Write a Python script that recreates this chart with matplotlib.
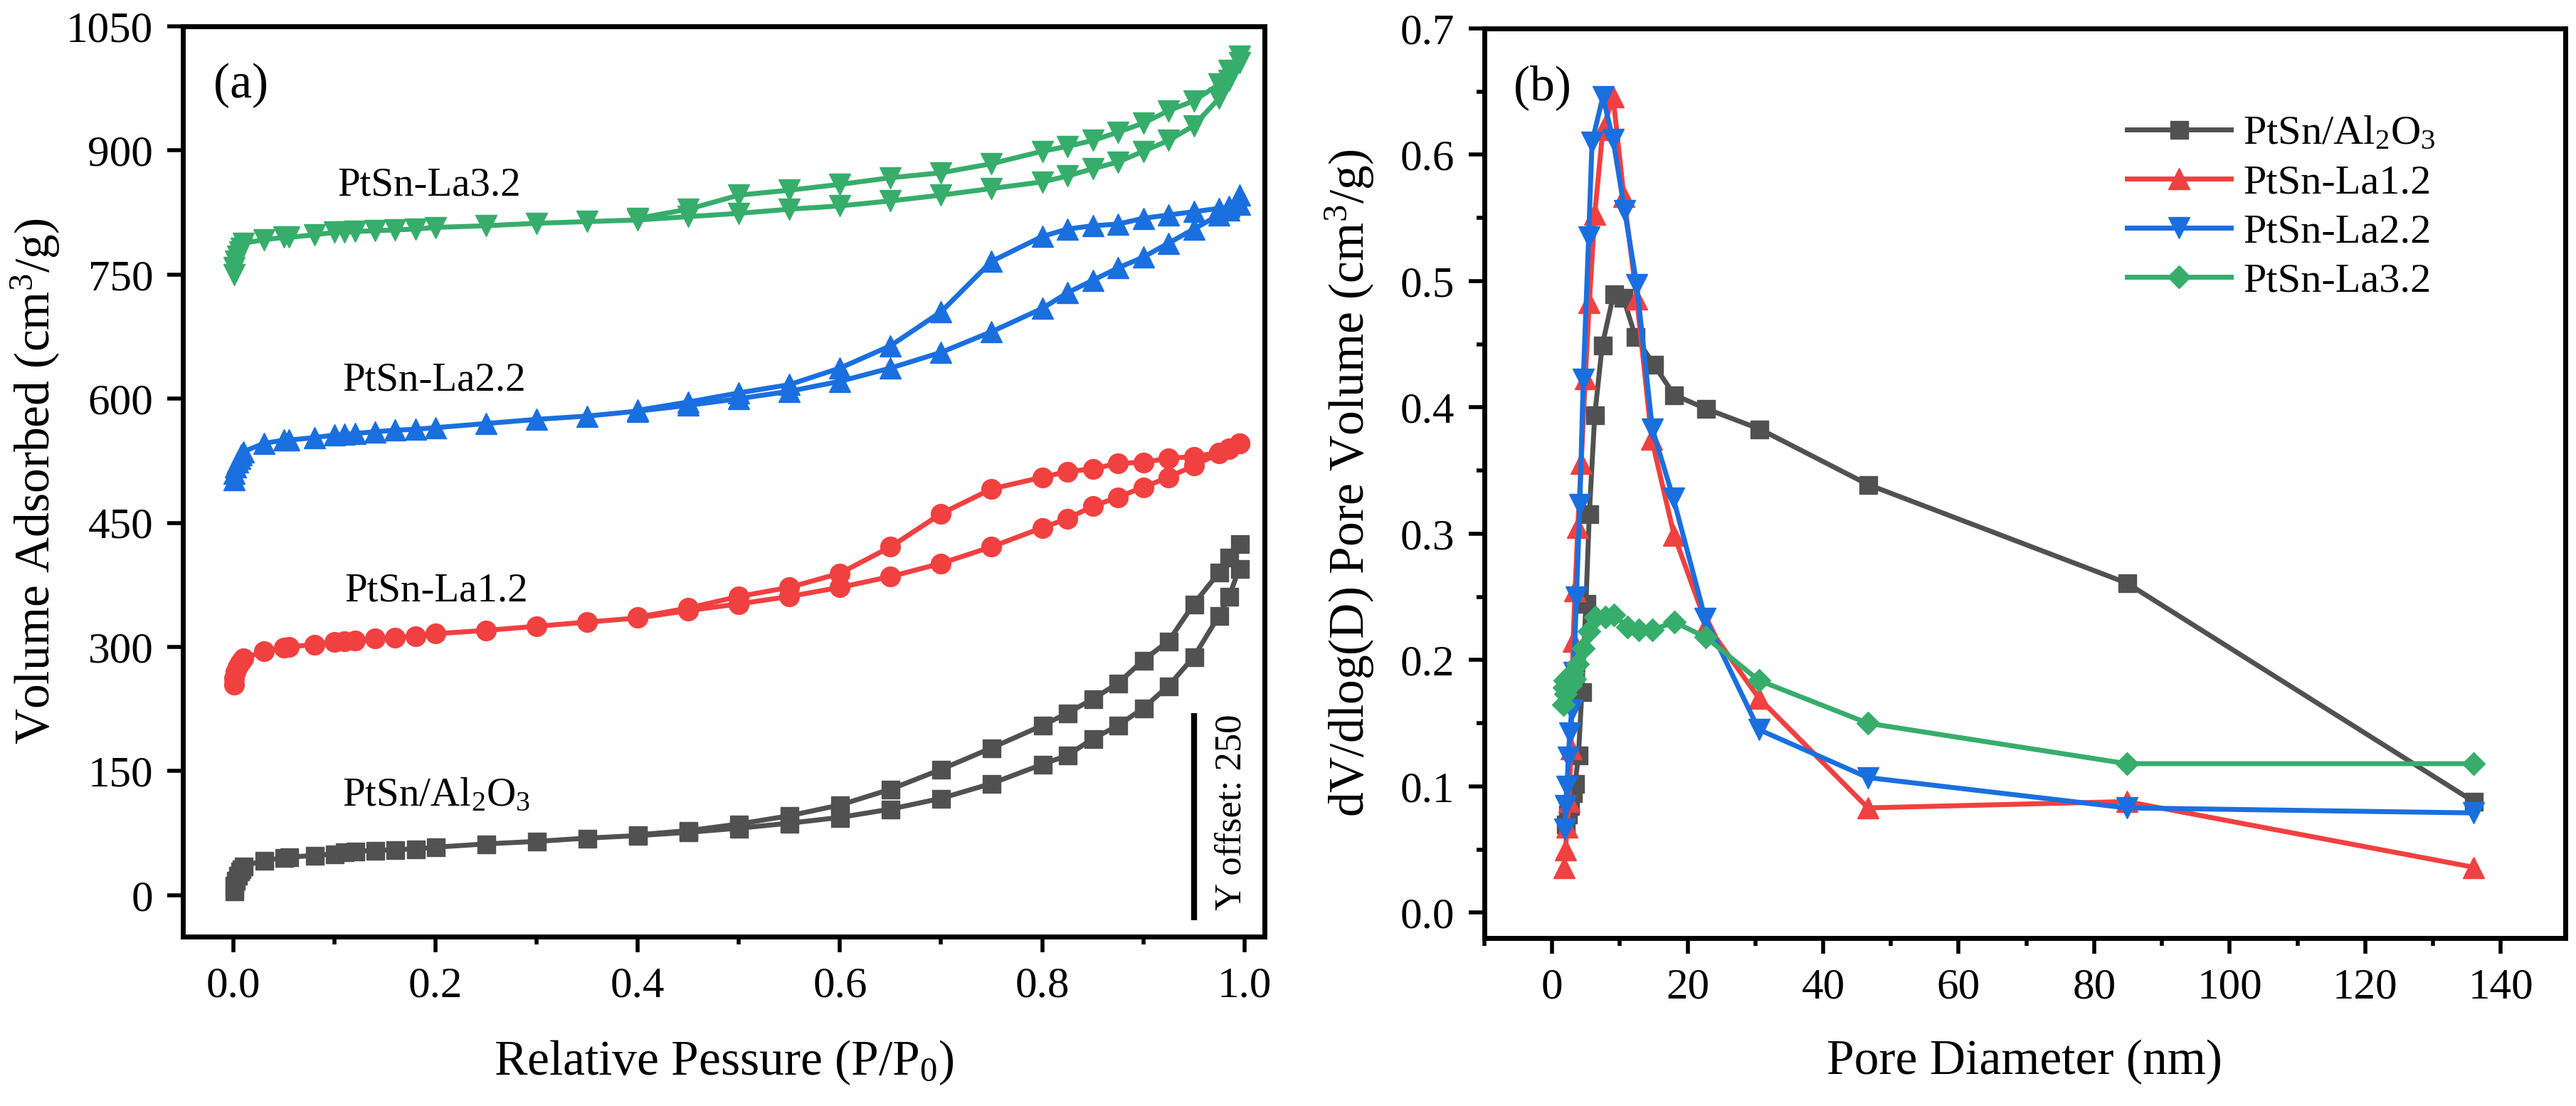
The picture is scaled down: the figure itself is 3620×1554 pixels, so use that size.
import matplotlib
matplotlib.use('Agg')
import matplotlib.pyplot as plt
from matplotlib.ticker import MultipleLocator, FormatStrFormatter

plt.rcParams['font.family'] = ['Liberation Serif', 'DejaVu Serif']
plt.rcParams['mathtext.fontset'] = 'custom'
plt.rcParams['mathtext.rm'] = 'Liberation Serif'
plt.rcParams['mathtext.it'] = 'Liberation Serif:italic'

# colours (Origin "bright" palette)
c_al = '#515151'
c_la1 = '#F14040'
c_la2 = '#1A6FDF'
c_la3 = '#37AD6B'

# ---------------- (a) N2 isotherms, raw values (offset added when drawn) ----------------
offset = 250
p_ads = [0.0005, 0.001, 0.002, 0.004, 0.006, 0.008, 0.01, 0.03, 0.05, 0.055, 0.08, 0.1,
         0.11, 0.12, 0.14, 0.16, 0.18, 0.2, 0.25, 0.3, 0.35, 0.4, 0.45, 0.5, 0.55, 0.6,
         0.65, 0.7, 0.75, 0.8, 0.825, 0.85, 0.875, 0.9, 0.925, 0.95, 0.975, 0.985, 0.995]
p_des = [0.995, 0.985, 0.975, 0.95, 0.925, 0.9, 0.875, 0.85, 0.825, 0.8, 0.75, 0.7,
         0.65, 0.6, 0.55, 0.5, 0.45, 0.4]

al_ads = [5, 12, 18, 24, 29, 32, 35, 42, 45, 46, 48, 50, 52, 53, 54, 55, 56, 58, 62, 65,
          69, 72, 76, 81, 87, 94, 104, 117, 135, 158, 169, 189, 205, 226, 253, 288, 338,
          361, 395]
al_des = [425, 408, 390, 352, 307, 284, 256, 237, 220, 205, 178, 152, 128, 109, 96, 86,
          78, 73]

la1_ads = [4, 12, 20, 26, 30, 33, 36, 45, 49, 50, 53, 56, 57, 58, 60, 61, 63, 66, 70, 75,
           80, 85, 94, 102, 111, 122, 135, 151, 171, 194, 205, 220, 231, 243, 255, 269,
           284, 289, 296]
la1_des = [296, 290, 285, 280, 278, 273, 272, 265, 262, 255, 241, 211, 171, 139, 122,
           111, 97, 86]

la2_ads = [2, 10, 18, 24, 28, 32, 36, 46, 50, 50, 53, 56, 57, 58, 60, 62, 63, 65, 70, 75,
           79, 85, 92, 100, 109, 121, 137, 156, 181, 209, 228, 243, 258, 271, 288, 305,
           322, 328, 335]
la2_des = [346, 332, 330, 326, 322, 318, 311, 309, 305, 296, 266, 205, 164, 137, 117,
           107, 96, 86]

la3_ads = [0, 8, 16, 22, 27, 32, 38, 42, 45, 45, 48, 51, 51, 52, 53, 54, 55, 57, 59, 62,
           64, 66, 70, 74, 79, 83, 89, 96, 104, 112, 119, 128, 136, 149, 162, 180, 213,
           235, 256]
la3_des = [264, 247, 230, 210, 198, 183, 172, 162, 155, 149, 134, 123, 117, 109, 102, 96,
           79, 68]

labels = ['PtSn/Al$_2$O$_3$', 'PtSn-La1.2', 'PtSn-La2.2', 'PtSn-La3.2']

# ---------------- (b) BJH pore size distribution ----------------
d_al = [2.0, 2.3, 2.6, 3.0, 3.4, 3.9, 4.4, 5.0, 5.5, 6.3, 7.4, 9.1, 10.5, 12.3, 15.0,
        18.0, 22.7, 30.6, 46.6, 84.8, 136.0]
v_al = [0.070, 0.078, 0.085, 0.095, 0.102, 0.125, 0.175, 0.245, 0.316, 0.394, 0.449,
        0.490, 0.487, 0.456, 0.434, 0.410, 0.399, 0.383, 0.339, 0.261, 0.088]

d_la1 = [1.8, 2.0, 2.2, 2.5, 2.8, 3.1, 3.4, 3.8, 4.3, 4.9, 5.5, 6.3, 7.5, 9.0, 10.6,
         12.5, 14.7, 18.0, 22.8, 30.5, 46.6, 84.8, 136.0]
v_la1 = [0.036, 0.050, 0.068, 0.088, 0.130, 0.215, 0.255, 0.305, 0.356, 0.423, 0.483,
         0.553, 0.620, 0.646, 0.567, 0.486, 0.375, 0.299, 0.228, 0.170, 0.083, 0.088,
         0.036]

d_la2 = [1.9, 2.0, 2.2, 2.4, 2.6, 2.9, 3.2, 3.6, 4.1, 4.6, 5.4, 5.9, 7.5, 9.0, 10.7,
         12.5, 14.8, 17.9, 22.6, 30.5, 46.6, 84.8, 136.0]
v_la2 = [0.066, 0.085, 0.100, 0.123, 0.142, 0.160, 0.190, 0.250, 0.323, 0.422, 0.535,
         0.610, 0.646, 0.612, 0.556, 0.497, 0.383, 0.328, 0.233, 0.145, 0.107, 0.083,
         0.079]

d_la3 = [1.7, 1.8, 1.9, 2.0, 2.2, 2.4, 2.7, 3.0, 3.4, 3.8, 4.6, 5.5, 6.4, 7.9, 9.1,
         11.1, 12.8, 14.8, 18.1, 22.7, 30.5, 46.6, 84.8, 136.0]
v_la3 = [0.165, 0.178, 0.184, 0.173, 0.182, 0.187, 0.180, 0.190, 0.185, 0.197, 0.209,
         0.223, 0.234, 0.234, 0.236, 0.226, 0.224, 0.224, 0.230, 0.218, 0.184, 0.150,
         0.118, 0.118]

# ----------------------------------------------------------------
fig = plt.figure(figsize=(36.2, 15.54), dpi=100)
ax1 = fig.add_axes([0.0710, 0.1532, 0.4199, 0.8230])
ax2 = fig.add_axes([0.5762, 0.1519, 0.4196, 0.8224])

lw = 5
tick_fs = 44
label_fs = 50

iso = [(al_ads, al_des, c_al, 's', 18),
       (la1_ads, la1_des, c_la1, 'o', 20),
       (la2_ads, la2_des, c_la2, '^', 21),
       (la3_ads, la3_des, c_la3, 'v', 21)]
for k, (ads, des, col, mk, ms) in enumerate(iso):
    for pp, vv in [(p_ads, ads), (p_des, des)]:
        ax1.plot(pp, [v + k * offset for v in vv], color=col, lw=lw, marker=mk,
                 ms=ms, mec=col, mfc=col, mew=1)

# curve labels
label_pos = [(0.108, 58), (0.110, 305), (0.108, 560), (0.103, 795)]
for (x, y), lab in zip(label_pos, labels):
    ax1.text(x, y + 40, lab, fontsize=41, ha='left', va='bottom')

# offset scale bar
ax1.plot([0.95, 0.95], [-30, -30 + offset], color='black', lw=6, solid_capstyle='butt')
ax1.text(0.987, -30 + offset / 2 + 5, 'Y offset: 250', rotation=90, fontsize=38,
         ha='center', va='center')

ax1.set_xlim(-0.05, 1.02)
ax1.set_ylim(-50, 1050)
ax1.xaxis.set_major_locator(MultipleLocator(0.2))
ax1.xaxis.set_minor_locator(MultipleLocator(0.1))
ax1.yaxis.set_major_locator(MultipleLocator(150))
ax1.xaxis.set_major_formatter(FormatStrFormatter('%.1f'))
ax1.set_xlabel('Relative Pessure (P/P$_0$)', fontsize=label_fs)
ax1.set_ylabel('Volume Adsorbed (cm$^3$/g)', fontsize=label_fs)
ax1.text(0.028, 0.935, '(a)', transform=ax1.transAxes, fontsize=50, ha='left', va='center')

# ---- panel (b)
psd = [(d_al, v_al, c_al, 's', 18, labels[0]),
       (d_la1, v_la1, c_la1, '^', 21, labels[1]),
       (d_la2, v_la2, c_la2, 'v', 21, labels[2]),
       (d_la3, v_la3, c_la3, 'D', 16, labels[3])]
for d, v, col, mk, ms, lab in psd:
    ax2.plot(d, v, color=col, lw=lw, marker=mk, ms=ms, mec=col, mfc=col, mew=1,
             label=lab)

ax2.set_xlim(-10, 149.5)
ax2.set_ylim(-0.02, 0.7)
ax2.xaxis.set_major_locator(MultipleLocator(20))
ax2.xaxis.set_minor_locator(MultipleLocator(10))
ax2.yaxis.set_major_locator(MultipleLocator(0.1))
ax2.yaxis.set_minor_locator(MultipleLocator(0.05))
ax2.yaxis.set_major_formatter(FormatStrFormatter('%.1f'))
ax2.set_xlabel('Pore Diameter (nm)', fontsize=label_fs)
ax2.set_ylabel('dV/dlog(D) Pore Volume (cm$^3$/g)', fontsize=label_fs)
ax2.text(0.027, 0.935, '(b)', transform=ax2.transAxes, fontsize=50, ha='left', va='center')
ax2.legend(loc='upper left', bbox_to_anchor=(0.5945, 0.905), frameon=False, fontsize=42,
           handlelength=2.5, handletextpad=0.3, labelspacing=0.28, borderaxespad=0,
           borderpad=0)

for ax in (ax1, ax2):
    for sp in ax.spines.values():
        sp.set_linewidth(5)
    ax.tick_params(which='major', direction='out', length=16, width=4,
                   labelsize=tick_fs, pad=14, top=False, right=False)
    ax.tick_params(which='minor', direction='out', length=8, width=4,
                   top=False, right=False)

ax1.yaxis.set_label_coords(-0.112, 0.5)
ax1.xaxis.set_label_coords(0.5, -0.112)
ax2.yaxis.set_label_coords(-0.100, 0.5)
ax2.xaxis.set_label_coords(0.5, -0.112)

fig.savefig('out.png', dpi=100)
